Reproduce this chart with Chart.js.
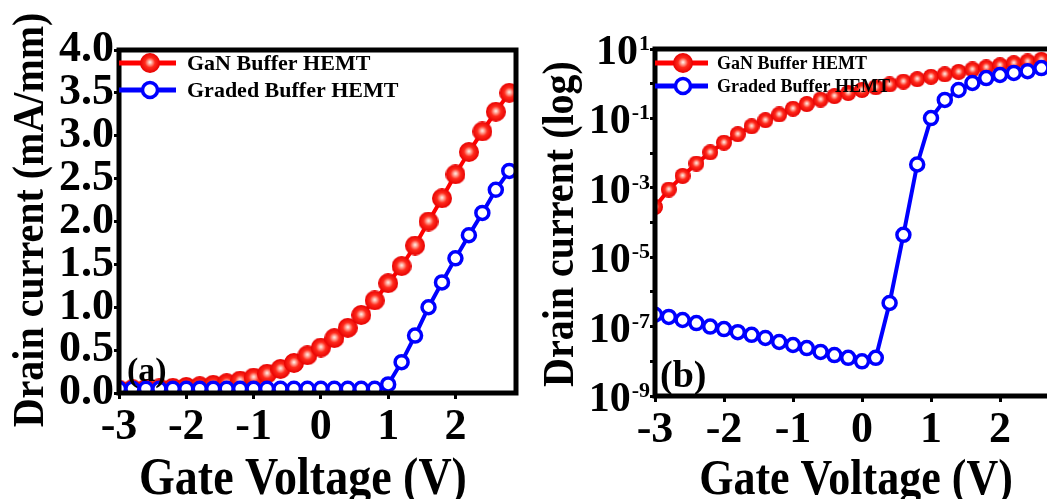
<!DOCTYPE html>
<html>
<head>
<meta charset="utf-8">
<script src="https://cdn.jsdelivr.net/npm/chart.js@4.4.0/dist/chart.umd.min.js"></script>
<style>
    html, body { margin: 0; padding: 0; background: #fff; overflow: hidden; width: 1047px; height: 499px; }
    #panelA { position: absolute; left: 0; top: 0; width: 530px; height: 499px; }
    #panelB { position: absolute; left: 530px; top: 0; width: 560px; height: 499px; }
</style>
</head>
<body>
<div id="panelA"><canvas id="chartA"></canvas></div>
<div id="panelB"><canvas id="chartB"></canvas></div>
<script>
const seriesNames = ['GaN Buffer HEMT', 'Graded Buffer HEMT'];

// gate sweep, V
const gateVoltage = [-3.0, -2.8, -2.6, -2.4, -2.2, -2.0, -1.8, -1.6, -1.4, -1.2, -1.0, -0.8, -0.6, -0.4, -0.2,
    0.0, 0.2, 0.4, 0.6, 0.8, 1.0, 1.2, 1.4, 1.6, 1.8, 2.0, 2.2, 2.4, 2.6, 2.8];

// (a) linear, mA/mm
const ganLinear = [0.04, 0.045, 0.05, 0.055, 0.06, 0.07, 0.08, 0.095, 0.115, 0.145, 0.18, 0.225, 0.28, 0.35, 0.44,
    0.53, 0.64, 0.76, 0.91, 1.08, 1.28, 1.48, 1.72, 2.0, 2.27, 2.55, 2.81, 3.05, 3.28, 3.5];
const gradedLinear = [0.05, 0.05, 0.05, 0.05, 0.05, 0.05, 0.05, 0.05, 0.05, 0.05, 0.05, 0.05, 0.05, 0.05, 0.05,
    0.05, 0.05, 0.05, 0.05, 0.05, 0.1, 0.36, 0.67, 1.0, 1.29, 1.57, 1.84, 2.1, 2.37, 2.59];

// (b) log scale
const ganLog = [2.8e-4, 8.9e-4, 2.2e-3, 5.0e-3, 1.05e-2, 2.0e-2, 3.5e-2, 5.9e-2, 8.9e-2, 0.13, 0.19, 0.26, 0.35, 0.44, 0.54,
    0.66, 0.79, 0.95, 1.15, 1.35, 1.58, 1.86, 2.19, 2.57, 2.95, 3.39, 3.89, 4.37, 4.9, 5.37];
const gradedLog = [2.2e-7, 1.9e-7, 1.55e-7, 1.26e-7, 1.0e-7, 8.5e-8, 6.9e-8, 5.8e-8, 4.7e-8, 3.6e-8, 2.95e-8, 2.4e-8, 1.86e-8, 1.51e-8, 1.26e-8,
    1.0e-8, 1.26e-8, 4.8e-7, 4.4e-5, 4.7e-3, 0.102, 0.34, 0.66, 1.05, 1.45, 1.78, 2.04, 2.29, 2.82, 3.16];

const xTicks = [-3, -2, -1, 0, 1, 2];
const yTicksLinear = [0, 0.5, 1.0, 1.5, 2.0, 2.5, 3.0, 3.5, 4.0];
const yTickLabelsLinear = ['0.0', '0.5', '1.0', '1.5', '2.0', '2.5', '3.0', '3.5', '4.0'];
const logDecades = [1e-9, 1e-8, 1e-7, 1e-6, 1e-5, 1e-4, 1e-3, 1e-2, 1e-1, 1, 10];
const logLabelValues = [10, 1e-1, 1e-3, 1e-5, 1e-7, 1e-9];
const logLabelExps = ['1', '-1', '-3', '-5', '-7', '-9'];

const FAMILY = "'Liberation Serif', 'Times New Roman', serif";
const RED = '#ff0000';
const BLUE = '#0000ff';

// red ball with a light spot in the middle
function makeBall(d) {
    const c = document.createElement('canvas');
    c.width = d;
    c.height = d;
    const g = c.getContext('2d');
    const r = d / 2;
    const grad = g.createRadialGradient(r, r - d * 0.04, 0, r, r, r);
    grad.addColorStop(0, '#fff6f0');
    grad.addColorStop(0.2, '#ffaa9c');
    grad.addColorStop(0.5, '#ff2a1c');
    grad.addColorStop(1, '#e60000');
    g.fillStyle = grad;
    g.beginPath();
    g.arc(r, r, r, 0, Math.PI * 2);
    g.fill();
    return c;
}

function points(ys) {
    return gateVoltage.map((v, i) => ({ x: v, y: ys[i] }));
}

function decor(cfg) {
    return {
        id: 'decor',
        afterDraw(chart) {
            const { ctx, chartArea: a } = chart;
            ctx.save();
            ctx.strokeStyle = '#000';
            ctx.lineWidth = 5;
            ctx.strokeRect(a.left, a.top, a.right - a.left, a.bottom - a.top);
            ctx.fillStyle = '#000';

            // axis titles (the source font is taller than it is wide)
            ctx.save();
            ctx.translate(cfg.xTitle.x, cfg.xTitle.y);
            ctx.scale(1, cfg.xTitle.stretch);
            ctx.font = `bold ${cfg.xTitle.size}px ${FAMILY}`;
            ctx.textAlign = 'center';
            ctx.textBaseline = 'alphabetic';
            ctx.fillText(cfg.xTitle.text, 0, 0);
            ctx.restore();

            ctx.save();
            ctx.translate(cfg.yTitle.x, cfg.yTitle.y);
            ctx.rotate(-Math.PI / 2);
            ctx.scale(1, cfg.yTitle.stretch);
            ctx.font = `bold ${cfg.yTitle.size}px ${FAMILY}`;
            ctx.textAlign = 'center';
            ctx.textBaseline = 'alphabetic';
            ctx.fillText(cfg.yTitle.text, 0, 0);
            ctx.restore();

            // panel letter
            ctx.font = `bold ${cfg.tag.size}px ${FAMILY}`;
            ctx.textAlign = 'left';
            ctx.fillText(cfg.tag.text, cfg.tag.x, cfg.tag.y);

            // legend
            const lg = cfg.legend;
            chart.data.datasets.forEach((ds, i) => {
                const y = lg.rows[i];
                ctx.strokeStyle = ds.borderColor;
                ctx.lineWidth = 5;
                ctx.beginPath();
                ctx.moveTo(lg.x0, y);
                ctx.lineTo(lg.x1, y);
                ctx.stroke();
                if (i === 0) {
                    ctx.drawImage(lg.ball, lg.mx - lg.ball.width / 2, y - lg.ball.height / 2);
                } else {
                    ctx.fillStyle = '#fff';
                    ctx.lineWidth = 3.5;
                    ctx.beginPath();
                    ctx.arc(lg.mx, y, lg.ring, 0, Math.PI * 2);
                    ctx.fill();
                    ctx.stroke();
                }
                ctx.fillStyle = '#000';
                ctx.font = `bold ${lg.size}px ${FAMILY}`;
                ctx.fillText(ds.label, lg.tx, y + lg.size * 0.33);
            });

            // 10^n labels on the log axis
            if (cfg.logLabels) {
                const ys = chart.scales.y;
                logLabelValues.forEach((v, i) => {
                    const py = ys.getPixelForValue(v);
                    ctx.font = `bold 22px ${FAMILY}`;
                    const supW = ctx.measureText(logLabelExps[i]).width;
                    const baseRight = cfg.logLabels.right - supW - 1;
                    ctx.textAlign = 'left';
                    ctx.fillText(logLabelExps[i], baseRight + 1, py + 1);
                    ctx.font = `bold 42px ${FAMILY}`;
                    ctx.textAlign = 'right';
                    ctx.fillText('10', baseRight, py + 15);
                });
            }
            ctx.restore();
        }
    };
}

const tickFont = { family: FAMILY, weight: 'bold', size: 44 };
const tickGrid = { drawOnChartArea: false, tickLength: 6, tickWidth: 3, tickColor: '#000' };

function xScale(max, h) {
    return {
        type: 'linear',
        min: -3,
        max: max,
        afterBuildTicks: (s) => { s.ticks = xTicks.map((v) => ({ value: v })); },
        afterFit: (s) => { s.height = h; },
        ticks: { font: tickFont, color: '#000', padding: 2, maxRotation: 0, autoSkip: false },
        grid: tickGrid,
        border: { display: false },
    };
}

const common = {
    responsive: true,
    maintainAspectRatio: false,
    animation: false,
    events: [],
    plugins: { legend: { display: false }, tooltip: { enabled: false } },
};

const ballA = makeBall(20);
const ballB = makeBall(16);
const ballLegend = makeBall(20);

new Chart(document.getElementById('chartA'), {
    type: 'line',
    data: {
        datasets: [
            {
                label: seriesNames[0], data: points(ganLinear), order: 2,
                borderColor: RED, borderWidth: 4, pointStyle: ballA, pointRadius: 10,
            },
            {
                label: seriesNames[1], data: points(gradedLinear), order: 1,
                borderColor: BLUE, borderWidth: 4, pointStyle: 'circle', pointRadius: 6.5,
                pointBorderWidth: 3.5, pointBorderColor: BLUE, pointBackgroundColor: '#fff',
            },
        ],
    },
    options: {
        ...common,
        layout: { padding: { top: 50, right: 13, left: 0, bottom: 0 } },
        scales: {
            x: xScale(2.9, 106),
            y: {
                type: 'linear',
                min: 0,
                max: 4,
                afterBuildTicks: (s) => { s.ticks = yTicksLinear.map((v) => ({ value: v })); },
                afterFit: (s) => { s.width = 119; },
                ticks: {
                    font: tickFont, color: '#000', padding: 0, autoSkip: false,
                    callback: (v, i) => yTickLabelsLinear[i],
                },
                grid: { ...tickGrid, tickLength: 5 },
                border: { display: false },
            },
        },
    },
    plugins: [decor({
        xTitle: { text: 'Gate Voltage (V)', x: 303, y: 494, size: 46, stretch: 1.15 },
        yTitle: { text: 'Drain current (mA/mm)', x: 43, y: 220, size: 40, stretch: 1.13 },
        tag: { text: '(a)', x: 127, y: 381, size: 34 },
        legend: { rows: [63, 90], x0: 119, x1: 176, mx: 150, tx: 187, size: 22, ball: ballLegend, ring: 7.5 },
    })],
});

new Chart(document.getElementById('chartB'), {
    type: 'line',
    data: {
        datasets: [
            {
                label: seriesNames[0], data: points(ganLog), order: 2,
                borderColor: RED, borderWidth: 4, pointStyle: ballB, pointRadius: 8,
            },
            {
                label: seriesNames[1], data: points(gradedLog), order: 1,
                borderColor: BLUE, borderWidth: 4, pointStyle: 'circle', pointRadius: 6.5,
                pointBorderWidth: 3.5, pointBorderColor: BLUE, pointBackgroundColor: '#fff',
            },
        ],
    },
    options: {
        ...common,
        layout: { padding: { top: 49, right: 21, left: 0, bottom: 0 } },
        scales: {
            x: xScale(3, 103),
            y: {
                type: 'logarithmic',
                min: 1e-9,
                max: 10,
                afterBuildTicks: (s) => { s.ticks = logDecades.map((v) => ({ value: v })); },
                afterFit: (s) => { s.width = 125; },
                ticks: { display: false },
                grid: { ...tickGrid, tickLength: 5 },
                border: { display: false },
            },
        },
    },
    plugins: [decor({
        xTitle: { text: 'Gate Voltage (V)', x: 326, y: 494, size: 44, stretch: 1.15 },
        yTitle: { text: 'Drain current (log)', x: 43, y: 224, size: 40, stretch: 1.13 },
        tag: { text: '(b)', x: 130, y: 387, size: 38 },
        legend: { rows: [63, 86], x0: 125, x1: 178, mx: 153, tx: 187, size: 18, ball: ballLegend, ring: 7.5 },
        logLabels: { right: 120 },
    })],
});
</script>
</body>
</html>
